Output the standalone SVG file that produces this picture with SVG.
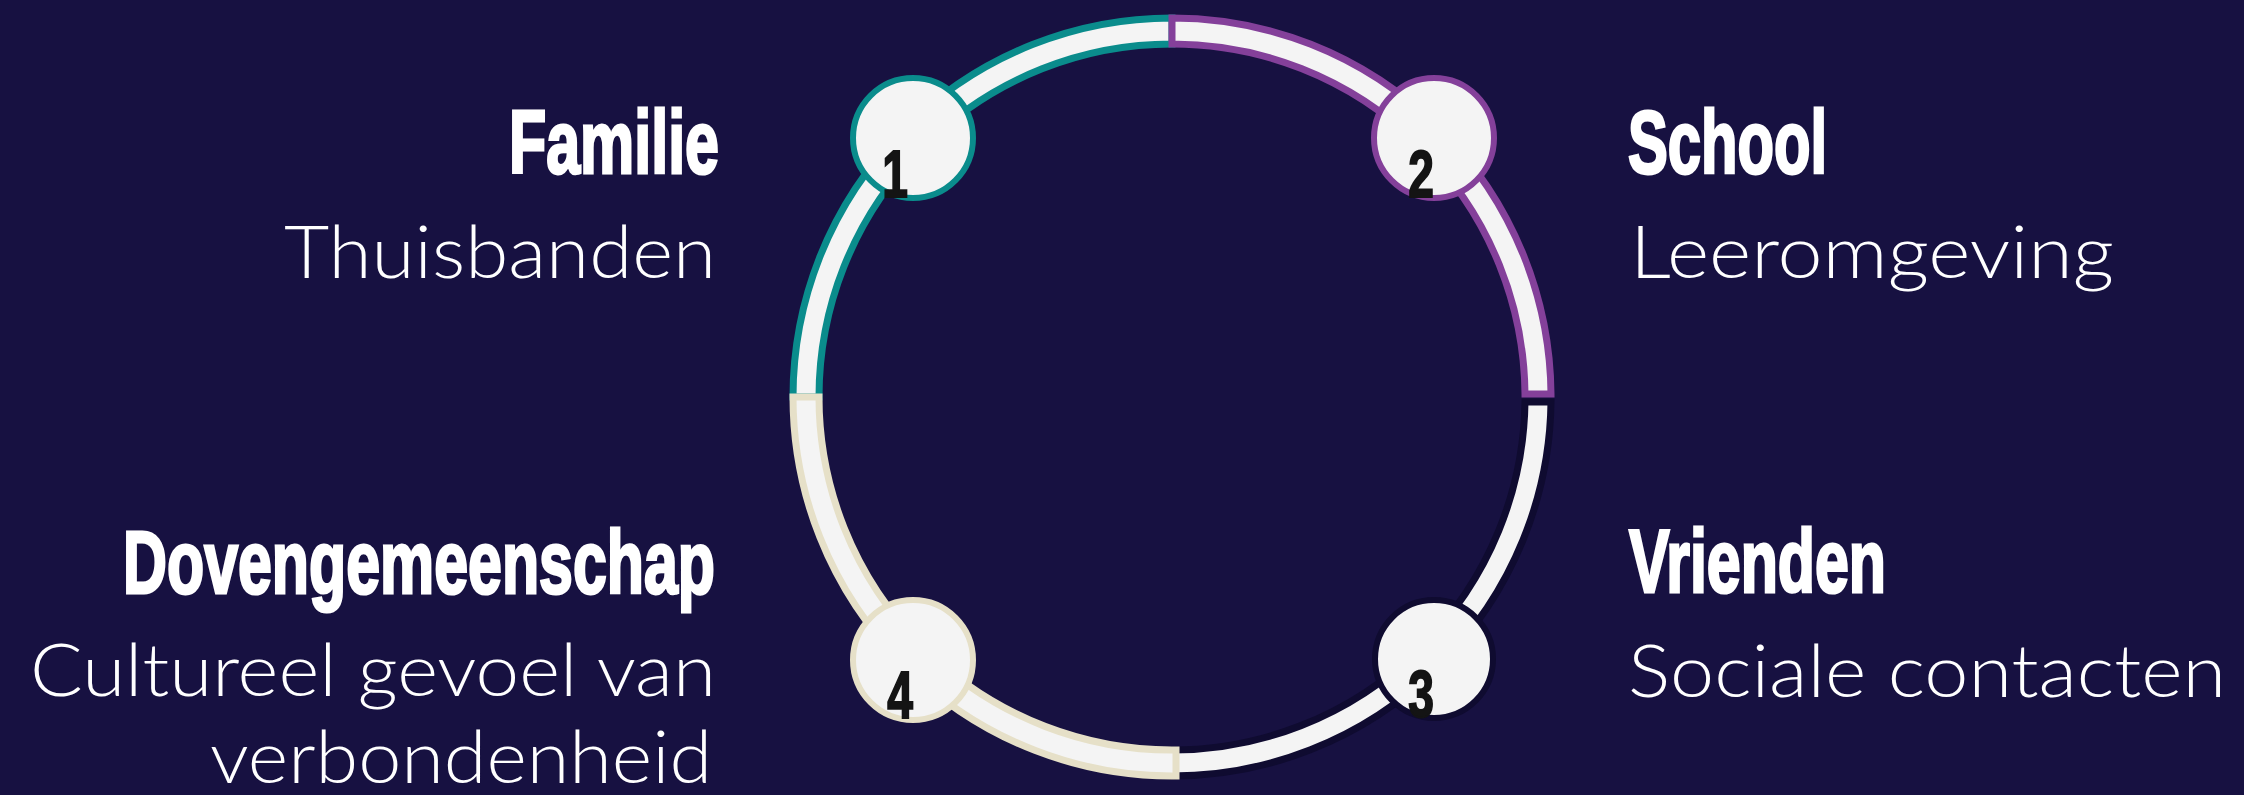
<svg xmlns="http://www.w3.org/2000/svg" width="2244" height="795" viewBox="0 0 2244 795">
  <style>
    .seg { stroke-width: 7; stroke-linejoin: miter; }
    .node { stroke-width: 6; fill: #f4f4f4; }
    .num { font-family: "Liberation Sans", Arial, sans-serif; font-weight: bold; font-size: 66px; fill: #141414; stroke: #141414; stroke-width: 2; text-anchor: middle; }
    .title { font-family: "Liberation Sans", Arial, sans-serif; font-weight: bold; font-size: 89px; fill: #ffffff; stroke: #ffffff; stroke-width: 3; }
    .sub { font-family: Lato, "Open Sans", "Liberation Sans", sans-serif; font-weight: 300; font-size: 72px; fill: #ffffff; }
  </style>
  <rect x="0" y="0" width="2244" height="795" fill="#171141"/>

  <g id="connectors">
    <path class="seg" fill="#f4f4f4" stroke="#0a8c8c" d="M793,397 A379,379 0 0 1 1172,18 L1172,44 A353,353 0 0 0 819,397 Z"/>
    <path class="seg" fill="#f4f4f4" stroke="#84409a" d="M1172,18 A379,379 0 0 1 1551,394 L1525,394 A353,353 0 0 0 1172,44 Z"/>
    <path class="seg" fill="#f4f4f4" stroke="#0f0b30" d="M1551,402 A379,379 0 0 1 1172,776 L1172,750 A353,353 0 0 0 1525,402 Z"/>
    <path class="seg" fill="#f4f4f4" stroke="#e6e0c8" d="M1176,776 A379,379 0 0 1 793,397 L819,397 A353,353 0 0 0 1176,750 Z"/>
  </g>

  <g id="node-1">
    <circle class="node" cx="913" cy="138" r="60" stroke="#0a8c8c"/>
    <text class="num" transform="translate(895,197) scale(0.7,1)">1</text>
    <text class="title" x="509" y="173" textLength="210" lengthAdjust="spacingAndGlyphs">Familie</text>
    <text class="sub" x="284" y="278" textLength="432" lengthAdjust="spacingAndGlyphs">Thuisbanden</text>
  </g>

  <g id="node-2">
    <circle class="node" cx="1434" cy="138" r="60" stroke="#84409a"/>
    <text class="num" transform="translate(1421,197) scale(0.7,1)">2</text>
    <text class="title" x="1628" y="173" textLength="199" lengthAdjust="spacingAndGlyphs">School</text>
    <text class="sub" x="1630" y="278" textLength="484" lengthAdjust="spacingAndGlyphs">Leeromgeving</text>
  </g>

  <g id="node-3">
    <circle class="node" cx="1434" cy="659" r="59" stroke="#0f0b30"/>
    <text class="num" transform="translate(1421,717) scale(0.7,1)">3</text>
    <text class="title" x="1629" y="592" textLength="257" lengthAdjust="spacingAndGlyphs">Vrienden</text>
    <text class="sub" x="1628" y="697" textLength="598" lengthAdjust="spacingAndGlyphs">Sociale contacten</text>
  </g>

  <g id="node-4">
    <circle class="node" cx="913" cy="660" r="60" stroke="#e6e0c8"/>
    <text class="num" transform="translate(900,718) scale(0.7,1)">4</text>
    <text class="title" x="123" y="593" textLength="592" lengthAdjust="spacingAndGlyphs">Dovengemeenschap</text>
    <text class="sub" x="30" y="696" textLength="686" lengthAdjust="spacingAndGlyphs">Cultureel gevoel van</text>
    <text class="sub" x="210" y="783" textLength="502" lengthAdjust="spacingAndGlyphs">verbondenheid</text>
  </g>
</svg>
